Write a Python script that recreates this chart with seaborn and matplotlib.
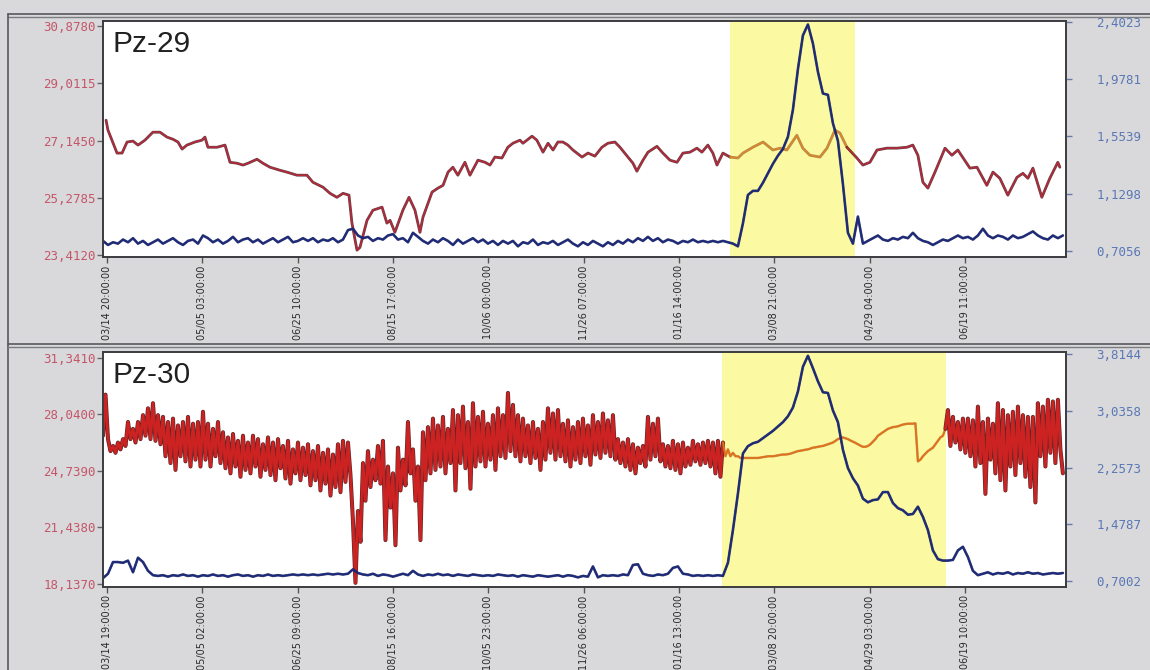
import numpy as np
import pandas as pd
import matplotlib
matplotlib.use("Agg")
import matplotlib.pyplot as plt
import matplotlib.patheffects as pe
from matplotlib.lines import Line2D
import seaborn as sns

sns.set_style("white")
plt.rcParams["font.family"] = ["DejaVu Sans"]

# ---------------------------------------------------------------- time axis
# Days counted from the first labelled timestamp; labels every 51 d 7 h.
TICK_STEP_DAYS = 1231 / 24
TOP_TICK_LABELS = ["03/14 20:00:00", "05/05 03:00:00", "06/25 10:00:00",
                   "08/15 17:00:00", "10/06 00:00:00", "11/26 07:00:00",
                   "01/16 14:00:00", "03/08 21:00:00", "04/29 04:00:00",
                   "06/19 11:00:00"]
BOTTOM_TICK_LABELS = ["03/14 19:00:00", "05/05 02:00:00", "06/25 09:00:00",
                      "08/15 16:00:00", "10/05 23:00:00", "11/26 06:00:00",
                      "01/16 13:00:00", "03/08 20:00:00", "04/29 03:00:00",
                      "06/19 10:00:00"]
X_RANGE = (-2.15, 516.0)

# regular logging grid used by the blue records (and half-step for Pz-30 red)
GRID_START = -2.15
GRID_STEP = 2.69

# ---------------------------------------------------------------- axes ticks
TOP_LEFT_TICKS = [23.4120, 25.2785, 27.1450, 29.0115, 30.8780]
TOP_RIGHT_TICKS = [0.7056, 1.1298, 1.5539, 1.9781, 2.4023]
BOTTOM_LEFT_TICKS = [18.1370, 21.4380, 24.7390, 28.0400, 31.3410]
BOTTOM_RIGHT_TICKS = [0.7002, 1.4787, 2.2573, 3.0358, 3.8144]

TOP_LEFT_LIM = (23.357, 31.04)
TOP_RIGHT_LIM = (0.661, 2.406)
BOTTOM_LEFT_LIM = (17.96, 31.69)
BOTTOM_RIGHT_LIM = (0.618, 3.842)

# highlighted periods (days)
TOP_SPAN = (335.2, 402.4)
BOTTOM_SPAN = (330.9, 451.4)

# ---------------------------------------------------------------- Pz-29 data
TOP_RED_DAY = [
    -0.5, 0.5, 5.4, 8.1, 10.8, 14.0, 16.7, 20.4, 24.7, 28.5,
    32.3, 35.5, 38.2, 40.4, 43.0, 47.3, 51.1, 52.7, 54.3, 59.2,
    63.5, 66.2, 69.9, 73.2, 75.9, 80.7, 83.9, 87.7, 93.1, 96.8,
    102.2, 107.6, 110.8, 116.2, 120.0, 123.7, 127.0, 130.2, 131.8, 134.5,
    136.1, 139.9, 143.1, 148.0, 150.6, 152.3, 154.9, 159.2, 162.5, 165.7,
    168.4, 170.0, 174.9, 178.1, 180.8, 183.5, 186.1, 188.8, 192.6, 195.3,
    199.6, 203.4, 206.1, 208.7, 212.5, 215.7, 218.4, 222.2, 223.8, 228.7,
    231.3, 234.6, 237.3, 240.0, 242.6, 245.3, 248.0, 250.7, 255.6, 258.8,
    262.5, 266.3, 269.5, 273.3, 276.0, 280.3, 283.0, 285.1, 288.4, 291.1,
    295.9, 299.1, 302.9, 306.7, 309.9, 313.7, 317.4, 320.1, 323.3, 326.0,
    328.2, 331.4, 335.2, 339.5, 342.2, 347.5, 353.0, 358.3, 362.1, 365.8,
    371.2, 374.4, 378.2, 383.6, 387.4, 391.7, 394.4, 398.1, 403.5, 406.7,
    410.5, 414.3, 419.6, 425.0, 430.4, 433.6, 436.3, 439.0, 441.7, 445.5,
    450.9, 454.6, 457.8, 464.3, 468.1, 473.4, 476.7, 480.4, 484.7, 489.6,
    492.8, 495.5, 498.2, 503.0, 507.3, 511.6, 512.7,
]
TOP_RED_VAL = [
    27.81, 27.49, 26.74, 26.74, 27.10, 27.13, 27.00, 27.16, 27.42, 27.42,
    27.26, 27.19, 27.10, 26.87, 27.00, 27.10, 27.16, 27.26, 26.93, 26.93,
    27.00, 26.44, 26.41, 26.35, 26.41, 26.54, 26.41, 26.28, 26.18, 26.12,
    26.02, 26.02, 25.79, 25.63, 25.43, 25.30, 25.43, 25.37, 24.46, 23.58,
    23.67, 24.55, 24.88, 24.98, 24.46, 24.55, 24.16, 24.88, 25.30, 24.88,
    24.16, 24.65, 25.47, 25.60, 25.69, 26.12, 26.28, 26.02, 26.44, 26.02,
    26.51, 26.44, 26.35, 26.61, 26.58, 26.93, 27.06, 27.16, 27.06, 27.29,
    27.16, 26.77, 27.06, 26.84, 27.10, 27.10, 27.00, 26.84, 26.61, 26.74,
    26.64, 26.93, 27.06, 27.10, 26.93, 26.61, 26.41, 26.15, 26.51, 26.77,
    26.96, 26.74, 26.51, 26.44, 26.74, 26.77, 26.90, 26.77, 27.00, 26.74,
    26.35, 26.74, 26.61, 26.58, 26.74, 26.93, 27.10, 26.84, 26.90, 26.84,
    27.32, 26.90, 26.67, 26.61, 26.90, 27.49, 27.39, 26.93, 26.58, 26.35,
    26.44, 26.84, 26.90, 26.90, 26.93, 27.00, 26.67, 25.79, 25.60, 26.12,
    26.90, 26.67, 26.84, 26.25, 26.28, 25.69, 26.12, 25.92, 25.37, 25.95,
    26.08, 25.92, 26.25, 25.30, 25.92, 26.44, 26.28,
]
TOP_BLUE_VAL = [
    0.78, 0.75, 0.77, 0.76, 0.79, 0.77, 0.80, 0.76, 0.78, 0.75,
    0.77, 0.79, 0.76, 0.78, 0.80, 0.77, 0.75, 0.78, 0.79, 0.76,
    0.82, 0.80, 0.77, 0.79, 0.76, 0.78, 0.81, 0.77, 0.79, 0.80,
    0.77, 0.79, 0.76, 0.78, 0.80, 0.77, 0.79, 0.81, 0.77, 0.78,
    0.80, 0.78, 0.80, 0.77, 0.79, 0.78, 0.80, 0.77, 0.79, 0.86,
    0.87, 0.82, 0.80, 0.81, 0.78, 0.80, 0.79, 0.82, 0.83, 0.79,
    0.80, 0.77, 0.84, 0.81, 0.78, 0.76, 0.79, 0.77, 0.80, 0.78,
    0.75, 0.79, 0.76, 0.78, 0.80, 0.77, 0.79, 0.76, 0.78, 0.75,
    0.78, 0.76, 0.78, 0.74, 0.77, 0.76, 0.79, 0.75, 0.77, 0.76,
    0.78, 0.75, 0.77, 0.79, 0.76, 0.74, 0.77, 0.75, 0.78, 0.76,
    0.74, 0.77, 0.75, 0.78, 0.76, 0.79, 0.77, 0.80, 0.78, 0.81,
    0.78, 0.80, 0.77, 0.79, 0.78, 0.76, 0.78, 0.77, 0.79, 0.77,
    0.78, 0.77, 0.78, 0.77, 0.78, 0.77, 0.76, 0.74, 0.91, 1.12,
    1.15, 1.15, 1.21, 1.28, 1.35, 1.41, 1.46, 1.55, 1.75, 2.05,
    2.30, 2.38, 2.24, 2.03, 1.87, 1.86, 1.65, 1.52, 1.20, 0.84,
    0.76, 0.96, 0.76, 0.78, 0.80, 0.82, 0.79, 0.78, 0.80, 0.79,
    0.81, 0.80, 0.84, 0.80, 0.78, 0.77, 0.75, 0.77, 0.79, 0.78,
    0.80, 0.82, 0.80, 0.81, 0.79, 0.82, 0.87, 0.82, 0.80, 0.82,
    0.81, 0.79, 0.82, 0.80, 0.81, 0.83, 0.85, 0.82, 0.80, 0.79,
    0.82, 0.80, 0.82,
]

# ---------------------------------------------------------------- Pz-30 data
BOTTOM_RED_VAL = [
    26.8, 29.2, 26.6, 25.9, 26.2, 25.8, 26.4, 26.0, 26.6, 26.2,
    27.6, 26.6, 27.2, 26.4, 27.6, 26.6, 28.0, 26.8, 28.4, 26.6,
    28.7, 26.5, 28.0, 26.3, 27.9, 25.6, 27.6, 25.2, 27.8, 24.8,
    27.4, 25.6, 27.6, 25.3, 27.9, 25.0, 27.5, 25.4, 27.6, 25.0,
    28.2, 25.4, 27.5, 25.0, 27.2, 25.6, 27.6, 25.2, 27.0, 24.9,
    26.7, 24.6, 26.9, 25.0, 26.5, 24.4, 26.8, 24.8, 26.4, 24.6,
    26.8, 25.0, 26.6, 24.4, 26.3, 24.8, 26.7, 24.5, 26.4, 24.2,
    26.6, 24.9, 26.2, 24.3, 26.5, 24.0, 26.0, 24.6, 26.4, 24.2,
    26.1, 24.5, 26.3, 23.9, 25.9, 24.2, 26.2, 23.6, 25.8, 24.0,
    26.0, 23.3, 25.7, 23.8, 26.3, 23.5, 26.5, 24.1, 26.4, 24.5,
    21.8, 18.2, 22.4, 20.6, 25.2, 23.0, 25.9, 23.8, 25.4, 24.2,
    26.2, 24.0, 26.5, 20.7, 25.0, 22.6, 24.6, 20.4, 26.1, 23.6,
    25.4, 23.9, 27.6, 24.6, 26.0, 23.0, 25.0, 20.7, 27.0, 24.2,
    27.3, 24.6, 27.8, 24.8, 27.4, 25.0, 27.9, 24.6, 27.2, 25.2,
    28.3, 23.6, 28.0, 25.2, 28.5, 24.9, 27.6, 23.7, 28.7, 25.0,
    27.9, 25.3, 28.2, 25.0, 27.5, 25.4, 28.0, 24.8, 28.4, 25.6,
    28.0, 25.5, 29.3, 25.9, 28.6, 25.6, 28.0, 25.3, 27.8, 25.6,
    27.4, 25.2, 27.6, 25.5, 27.2, 24.8, 27.6, 25.4, 28.4, 25.8,
    28.1, 25.4, 28.3, 25.6, 27.5, 25.3, 27.7, 25.0, 27.3, 25.4,
    27.6, 25.2, 27.8, 25.6, 27.4, 25.1, 28.0, 25.7, 27.6, 25.5,
    28.1, 25.8, 27.7, 25.6, 28.0, 25.4, 26.6, 25.2, 26.4, 25.0,
    26.6, 24.8, 26.3, 24.6, 26.1, 25.2, 26.2, 25.0, 27.9, 25.4,
    27.5, 25.6, 27.8, 25.3, 26.3, 25.0, 26.2, 24.9, 26.5, 24.8,
    26.3, 24.6, 26.4, 25.0, 26.1, 25.1, 26.5, 25.3, 26.3, 25.1,
    26.4, 25.2, 26.5, 25.0, 26.4, 24.6, 26.5, 24.4, 26.4, 25.6,
    26.0, 25.6, 25.8, 25.6, 25.6, 25.5, 25.5, 25.5, 25.5, 25.5,
    25.5, 25.5, 25.5, 25.52, 25.55, 25.57, 25.6, 25.6, 25.6, 25.62,
    25.65, 25.68, 25.7, 25.7, 25.72, 25.75, 25.8, 25.85, 25.9, 25.92,
    25.95, 25.98, 26.0, 26.05, 26.1, 26.12, 26.15, 26.18, 26.2, 26.25,
    26.3, 26.35, 26.4, 26.5, 26.6, 26.65, 26.7, 26.65, 26.6, 26.52,
    26.45, 26.38, 26.3, 26.22, 26.15, 26.15, 26.2, 26.3, 26.45, 26.6,
    26.8, 26.9, 27.0, 27.1, 27.2, 27.25, 27.3, 27.32, 27.35, 27.4,
    27.45, 27.48, 27.5, 27.5, 27.5, 27.52, 25.3, 25.4, 25.6, 25.75,
    25.9, 26.0, 26.1, 26.3, 26.5, 26.7, 26.8, 27.2, 28.3, 26.2,
    27.9, 26.4, 27.6, 26.0, 27.8, 25.8, 27.8, 25.6, 27.7, 25.0,
    28.5, 25.2, 27.6, 23.4, 27.8, 25.4, 27.5, 24.6, 28.7, 24.2,
    28.3, 23.6, 28.0, 25.0, 28.2, 24.5, 28.5, 25.2, 28.0, 24.4,
    27.9, 23.8, 27.9, 22.9, 28.7, 25.6, 28.5, 25.0, 28.9, 25.8,
    28.8, 25.2, 28.9, 26.0, 24.6,
]
BOTTOM_BLUE_VAL = [
    0.74, 0.80, 0.96, 0.96, 0.95, 0.98, 0.82, 1.02, 0.96, 0.84,
    0.78, 0.77, 0.78, 0.76, 0.78, 0.77, 0.79, 0.77, 0.78, 0.76,
    0.78, 0.77, 0.79, 0.77, 0.78, 0.76, 0.78, 0.79, 0.77, 0.78,
    0.76, 0.78, 0.77, 0.79, 0.77, 0.78, 0.77, 0.78, 0.79, 0.78,
    0.79, 0.78, 0.79, 0.78, 0.79, 0.80, 0.79, 0.80, 0.79, 0.80,
    0.86, 0.81, 0.79, 0.78, 0.80, 0.77, 0.79, 0.78, 0.76, 0.78,
    0.80, 0.78, 0.84, 0.79, 0.77, 0.79, 0.78, 0.80, 0.78, 0.79,
    0.77, 0.79, 0.78, 0.77, 0.79, 0.78, 0.77, 0.78, 0.77, 0.79,
    0.78, 0.77, 0.78, 0.76, 0.78, 0.77, 0.76, 0.78, 0.77, 0.76,
    0.77, 0.78, 0.76, 0.78, 0.77, 0.75, 0.77, 0.76, 0.90, 0.75,
    0.78, 0.77, 0.78, 0.77, 0.79, 0.78, 0.92, 0.93, 0.80, 0.78,
    0.77, 0.79, 0.78, 0.80, 0.88, 0.90, 0.80, 0.79, 0.77, 0.78,
    0.77, 0.78, 0.77, 0.78, 0.77, 0.95, 1.40, 1.90, 2.45, 2.55,
    2.59, 2.61, 2.66, 2.71, 2.76, 2.82, 2.88, 2.96, 3.08, 3.30,
    3.64, 3.79, 3.62, 3.44, 3.29, 3.28, 3.04, 2.88, 2.50, 2.25,
    2.11, 2.01, 1.83, 1.78, 1.81, 1.82, 1.92, 1.92, 1.77, 1.70,
    1.67, 1.61, 1.62, 1.72, 1.58, 1.40, 1.12, 1.00, 0.98, 0.98,
    0.99, 1.12, 1.17, 1.03, 0.84, 0.78, 0.80, 0.82, 0.79, 0.81,
    0.80, 0.82, 0.79, 0.81, 0.80, 0.82, 0.80, 0.81, 0.79, 0.80,
    0.81, 0.80, 0.81,
]

# ---------------------------------------------------------------- styling
FIG_BG = "#d9d9db"
SPAN_COLOR = "#fbf9a2"
FRAME = "#3c3c40"
RED = "#b8283a"
RED_DARK = "#3e1418"
BAND_RED = "#cc2222"
BAND_EDGE = "#4a0e10"
ORANGE_TOP = "#d9872e"
ORANGE_BOT = "#e0701c"
BLUE = "#1c2a7c"
LEFT_LABEL = "#c4566a"
RIGHT_LABEL = "#5a78b6"

W, H = 1150, 670
fig = plt.figure(figsize=(W / 100, H / 100), dpi=100, facecolor=FIG_BG)


def px_box(left, top, right, bottom):
    return [left / W, 1 - bottom / H, (right - left) / W, (bottom - top) / H]


def fig_line(xs, ys, lw=1.2, color="#55585c"):
    fig.add_artist(Line2D([x / W for x in xs], [1 - y / H for y in ys],
                          lw=lw, color=color, transform=fig.transFigure))


def draw_split(ax, day, val, span, base, base_lw, base_fx,
               accent, accent_lw, accent_fx):
    df = pd.DataFrame({"day": day, "val": val})
    inside = np.where((df["day"] >= span[0]) & (df["day"] <= span[1]))[0]
    a, b = inside[0], inside[-1]
    pieces = [(df.iloc[:a + 1], base, base_lw, base_fx),
              (df.iloc[a:b + 1], accent, accent_lw, accent_fx),
              (df.iloc[b:], base, base_lw, base_fx)]
    for part, col, lw, fx in pieces:
        sns.lineplot(data=part, x="day", y="val", ax=ax, color=col,
                     linewidth=lw, estimator=None, sort=False,
                     path_effects=fx)


def style_panel(ax, axr, tick_labels, lticks, rticks, llim, rlim, name):
    ax.set_facecolor("white")
    ax.set_xlim(*X_RANGE)
    ax.set_ylim(*llim)
    axr.set_ylim(*rlim)
    pos = [k * TICK_STEP_DAYS for k in range(len(tick_labels))]
    ax.set_xticks(pos)
    ax.set_xticklabels(tick_labels, rotation=90, fontsize=7,
                       color="#2a2a2a", va="top", ha="center")
    ax.set_yticks(lticks)
    ax.set_yticklabels([f"{v:.4f}".replace(".", ",") for v in lticks])
    axr.set_yticks(rticks)
    axr.set_yticklabels([f"{v:.4f}".replace(".", ",") for v in rticks])
    ax.tick_params(axis="x", length=4, width=1, color="#555", pad=2,
                   bottom=True, direction="out")
    ax.tick_params(axis="y", length=4, width=1, color="#666", pad=1,
                   labelcolor=LEFT_LABEL, labelsize=9, left=True,
                   direction="out")
    axr.tick_params(axis="y", length=4, width=1, color="#6a7aa8", pad=18,
                    labelcolor=RIGHT_LABEL, labelsize=9, right=True,
                    direction="out")
    for lab in ax.get_yticklabels() + axr.get_yticklabels():
        lab.set_fontfamily("DejaVu Sans Mono")
    for a in (ax, axr):
        for s in a.spines.values():
            s.set_visible(True)
            s.set_color(FRAME)
            s.set_linewidth(1.2)
    ax.set_xlabel("")
    ax.set_ylabel("")
    axr.set_ylabel("")
    ax.text(0.0095, 0.962, name, transform=ax.transAxes, ha="left", va="top",
            fontsize=21.5, family="Liberation Sans", color="#202020",
            zorder=10)


line_fx = [pe.Stroke(linewidth=2.0, foreground=RED_DARK, alpha=0.8),
           pe.Normal()]
orange_top_fx = [pe.Stroke(linewidth=2.0, foreground="#7a4a18", alpha=0.6),
                 pe.Normal()]
orange_bot_fx = [pe.Stroke(linewidth=1.8, foreground="#9a4a10", alpha=0.5),
                 pe.Normal()]
band_fx = [pe.Stroke(linewidth=2.9, foreground=BAND_EDGE, alpha=0.9),
           pe.Normal()]
blue_fx = [pe.Stroke(linewidth=1.9, foreground="#141a50", alpha=0.8),
           pe.Normal()]

grid_days = lambda n, step: [GRID_START + i * step for i in range(n)]

# ------------------------------------------------------------- top: Pz-29
ax1 = fig.add_axes(px_box(103, 21, 1066, 257))
ax1r = ax1.twinx()
ax1.axvspan(*TOP_SPAN, color=SPAN_COLOR, lw=0, zorder=0)
draw_split(ax1, TOP_RED_DAY, TOP_RED_VAL, TOP_SPAN,
           RED, 1.1, line_fx, ORANGE_TOP, 1.2, orange_top_fx)
sns.lineplot(x=grid_days(len(TOP_BLUE_VAL), GRID_STEP), y=TOP_BLUE_VAL,
             ax=ax1r, color=BLUE, linewidth=1.3, estimator=None, sort=False,
             path_effects=blue_fx)
style_panel(ax1, ax1r, TOP_TICK_LABELS, TOP_LEFT_TICKS, TOP_RIGHT_TICKS,
            TOP_LEFT_LIM, TOP_RIGHT_LIM, "Pz-29")

# ---------------------------------------------------------- bottom: Pz-30
ax2 = fig.add_axes(px_box(103, 352, 1066, 587))
ax2r = ax2.twinx()
ax2.axvspan(*BOTTOM_SPAN, color=SPAN_COLOR, lw=0, zorder=0)
draw_split(ax2, grid_days(len(BOTTOM_RED_VAL), GRID_STEP / 2),
           BOTTOM_RED_VAL, BOTTOM_SPAN, BAND_RED, 2.0, band_fx,
           ORANGE_BOT, 1.3, orange_bot_fx)
sns.lineplot(x=grid_days(len(BOTTOM_BLUE_VAL), GRID_STEP), y=BOTTOM_BLUE_VAL,
             ax=ax2r, color=BLUE, linewidth=1.3, estimator=None, sort=False,
             path_effects=blue_fx)
style_panel(ax2, ax2r, BOTTOM_TICK_LABELS, BOTTOM_LEFT_TICKS,
            BOTTOM_RIGHT_TICKS, BOTTOM_LEFT_LIM, BOTTOM_RIGHT_LIM, "Pz-30")

# ------------------------------------------------------------ panel frames
fig_line([8, W], [13.5, 13.5])
fig_line([8, W], [16.5, 16.5], lw=1.0, color="#7a7d80")
fig_line([8, 8], [13.5, H])
fig_line([8, W], [343.5, 343.5])
fig_line([8, W], [346.5, 346.5], lw=1.0, color="#7a7d80")

fig.savefig("out.png", dpi=100, facecolor=FIG_BG)
